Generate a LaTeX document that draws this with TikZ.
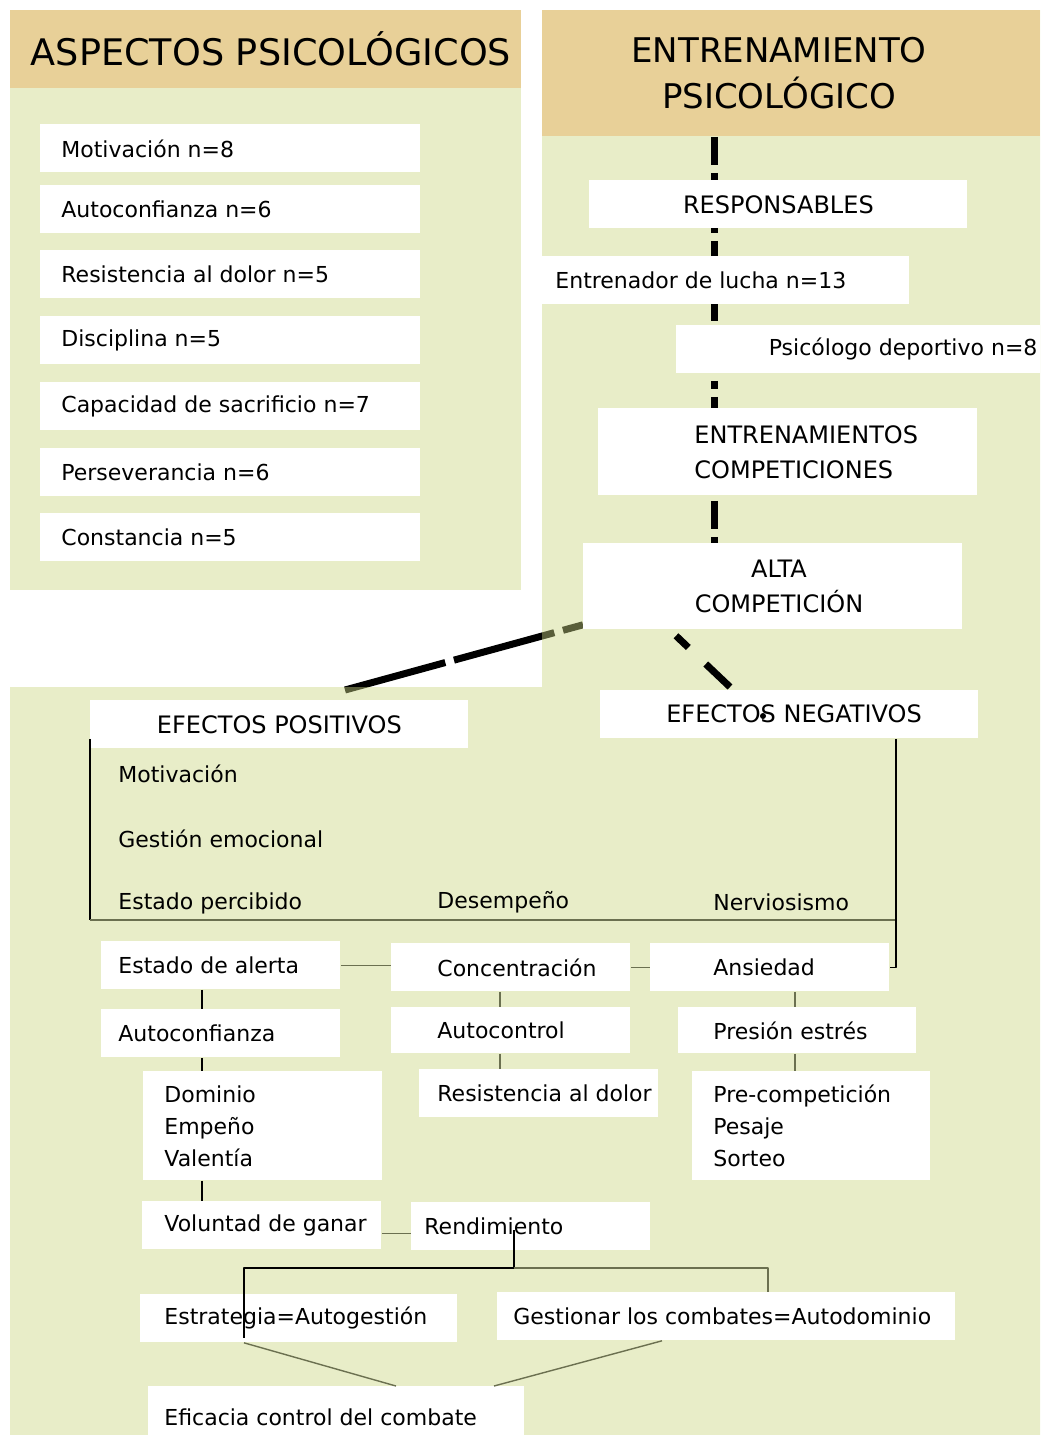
\documentclass[tikz,border=0pt]{standalone}
\usepackage{fontspec}
\setmainfont{DejaVu Sans}
\usetikzlibrary{positioning}
\pgfdeclarelayer{fondo}
\pgfdeclarelayer{trazos}
\pgfsetlayers{fondo,trazos,main}
\definecolor{verde}{RGB}{203,214,131}
\definecolor{arena}{RGB}{232,208,152}
\definecolor{gris}{RGB}{107,112,80}
\begin{document}
\begin{tikzpicture}[x=0.5pt, y=-0.5pt, font=\fontsize{11}{13}\selectfont, line join=round,
	caja/.style={fill=white, inner sep=0pt, anchor=north west, minimum height=24pt},
	texto/.style={inner sep=0pt, anchor=west, align=left},
	mayus/.style={font=\fontsize{12}{17.5}\selectfont},
	tres/.style={font=\fontsize{11}{16}\selectfont},
	fino/.style={line width=0.7pt},
	guion/.style={line width=3.5pt, line cap=butt}]
	\useasboundingbox (0,0) rectangle (1040,1435);
	% cabeceras
	\node[caja, fill=arena, minimum width=255.5pt, minimum height=39pt] (cab1) at (10,10) {};
	\node[inner sep=0pt, font=\fontsize{18.3}{22}\selectfont] (tcab1) at (271,49) {ASPECTOS PSICOLÓGICOS};
	\node[caja, fill=arena, minimum width=249pt, minimum height=63pt] (cab2) at (542,10) {};
	\node[inner sep=0pt, align=center, font=\fontsize{17}{23}\selectfont] (tcab2) at (779,73) {ENTRENAMIENTO\\PSICOLÓGICO};
	% aspectos
	\foreach \i/\y/\etiq in {1/124/Motivación n=8, 2/185/Autoconfianza n=6, 3/250/Resistencia al dolor n=5, 4/316/Disciplina n=5, 5/382/Capacidad de sacrificio n=7, 6/448/Perseverancia n=6, 7/513/Constancia n=5}
	{
		\node[caja, minimum width=190pt] (asp\i) at (40,\y) {};
		\node[texto, right=10.5pt of asp\i.west] (tasp\i) {\etiq};
	}
	% entrenamiento
	\node[caja, minimum width=189pt, mayus] (resp) at (589,180) {RESPONSABLES};
	\node[caja, minimum width=184pt] (entr) at (541,256) {};
	\node[texto, right=7pt of entr.west] (tentr) {Entrenador de lucha n=13};
	\node[caja, minimum width=182pt] (psic) at (676,325) {};
	\node[texto, left=1.5pt of psic.east] (tpsic) {Psicólogo deportivo n=8};
	\node[caja, minimum width=189.5pt, minimum height=43.5pt] (entcomp) at (598,408) {};
	\node[texto, mayus, right=48pt of entcomp.west] (tentcomp) {ENTRENAMIENTOS\\COMPETICIONES};
	\node[caja, minimum width=189.5pt, minimum height=43pt] (alta) at (583,543) {};
	\node[inner sep=0pt, mayus, align=center] (talta) at (779,586) {ALTA\\COMPETICIÓN};
	% efectos
	\node[caja, minimum width=189pt, mayus] (pos) at (90,700) {EFECTOS POSITIVOS};
	\node[caja, minimum width=189pt] (neg) at (600,690) {};
	\node[inner sep=0pt, mayus] (tneg) at (794,714) {EFECTOS NEGATIVOS};
	\node[texto] (motiv) at (118,774) {Motivación};
	\node[texto] (emoc) at (118,839) {Gestión emocional};
	\node[texto] (percib) at (118,903) {Estado percibido};
	\node[texto] (desemp) at (437,902) {Desempeño};
	\node[texto] (nervio) at (713,902) {Nerviosismo};
	% columna izquierda
	\node[caja, minimum width=119.5pt] (alerta) at (101,941) {};
	\node[texto, right=8.5pt of alerta.west] (talerta) {Estado de alerta};
	\node[caja, minimum width=119.5pt] (autoconf) at (101,1009) {};
	\node[texto, right=8.5pt of autoconf.west] (tautoconf) {Autoconfianza};
	\node[caja, minimum width=119.5pt, minimum height=54.5pt] (dominio) at (143,1071) {};
	\node[texto, tres, right=10.5pt of dominio.west] (tdominio) {Dominio\\Empeño\\Valentía};
	\node[caja, minimum width=119.5pt] (volun) at (142,1201) {};
	\node[texto, right=11pt of volun.west] (tvolun) {Voluntad de ganar};
	% columna central
	\node[caja, minimum width=119.5pt] (conc) at (391,943) {};
	\node[texto, right=23pt of conc.west] (tconc) {Concentración};
	\node[caja, minimum width=119.5pt, minimum height=23pt] (autocont) at (391,1007) {};
	\node[texto, right=23pt of autocont.west] (tautocont) {Autocontrol};
	\node[caja, minimum width=119.5pt] (resist) at (419,1069) {};
	\node[texto, right=9pt of resist.west] (tresist) {Resistencia al dolor};
	\node[caja, minimum width=119.5pt] (rend) at (411,1202) {};
	\node[texto, right=6.5pt of rend.west] (trend) {Rendimiento};
	% columna derecha
	\node[caja, minimum width=119.5pt] (ans) at (650,943) {};
	\node[texto, right=31.5pt of ans.west] (tans) {Ansiedad};
	\node[caja, minimum width=119pt, minimum height=23pt] (presion) at (678,1007) {};
	\node[texto, right=17.5pt of presion.west] (tpresion) {Presión estrés};
	\node[caja, minimum width=119pt, minimum height=54.5pt] (precomp) at (692,1071) {};
	\node[texto, tres, right=10.5pt of precomp.west] (tprecomp) {Pre-competición\\Pesaje\\Sorteo};
	% cierre
	\node[caja, minimum width=158.5pt] (estr) at (140,1294) {};
	\node[texto, right=12pt of estr.west] (testr) {Estrategia=Autogestión};
	\node[caja, minimum width=229pt] (gestc) at (497,1292) {};
	\node[texto, right=8pt of gestc.west] (tgestc) {Gestionar los combates=Autodominio};
	\node[caja, minimum width=188pt, minimum height=31pt] (efic) at (148,1386) {};
	\node[texto, right=8pt of efic.west] (tefic) {Eficacia control del combate};

	% fondo verde por encima de la diagonal
	\begin{pgfonlayer}{fondo}
		\coordinate (dpos) at (345,690);
		\draw[guion, dash pattern=on 52pt off 4.5pt] (dpos) -- ([yshift=2.5pt]alta.south west);
		\fill[verde, fill opacity=0.443] (10,10) rectangle (521,590);
		\fill[verde, fill opacity=0.443] (542,10) -- (1040,10) -- (1040,1435) -- (10,1435) -- (10,687) -- (542,687) -- cycle;
	\end{pgfonlayer}
	\begin{pgfonlayer}{trazos}
		\coordinate (eje) at (714,0);
		\draw[guion, dash pattern=on 14pt off 4pt on 4pt off 4pt] (cab2.south -| eje) -- (alta.north -| eje);
		\coordinate (dneg) at (730,687);
		\draw[guion, dash pattern=on 8.5pt off 12pt on 17pt off 10pt] ([xshift=46.5pt,yshift=-3pt]alta.south west) -- (dneg);
		\coordinate (marca) at (763,716);
	\end{pgfonlayer}
	\fill (marca) circle (1.5pt);

	% conectores
	\coordinate (colA) at (202,0);
	\coordinate (colB) at (500,0);
	\coordinate (colC) at (795,0);
	\draw[fino] (alerta.south -| colA) -- (autoconf.north -| colA);
	\draw[fino] (autoconf.south -| colA) -- (dominio.north -| colA);
	\draw[fino] (dominio.south -| colA) -- (volun.north -| colA);
	\draw[fino, gris] (conc.south -| colB) -- (autocont.north -| colB);
	\draw[fino, gris] (autocont.south -| colB) -- (resist.north -| colB);
	\draw[fino, gris] (ans.south -| colC) -- (presion.north -| colC);
	\draw[fino, gris] (presion.south -| colC) -- (precomp.north -| colC);
	\draw[fino, gris] (alerta.east) -- (alerta.east -| conc.west);
	\draw[fino, gris] (conc.east) -- (ans.west);
	\draw[fino, gris] ([yshift=-4pt]volun.east) -- ([yshift=-4pt]volun.east -| rend.west);
	\coordinate (esq) at (896,920);
	\draw[fino] ([yshift=5pt]pos.south west) -- (pos.south west |- esq);
	\draw[fino, gris] (pos.south west |- esq) -- (esq);
	\draw[fino] (neg.south -| esq) -- (ans.east -| esq) -- (ans.east);
	\coordinate (nudo) at (514,1268);
	\draw[fino] ([yshift=-2pt]rend.west -| nudo) -- (nudo) -| ([xshift=52pt,yshift=2.5pt]estr.south west);
	\draw[fino, gris] (nudo) -| ([xshift=135.5pt]gestc.north west);
	\draw[fino, gris] ([xshift=52pt]estr.south west) -- ([xshift=124pt]efic.north west);
	\draw[fino, gris] ([xshift=82.5pt]gestc.south west) -- ([xshift=173pt]efic.north west);
\end{tikzpicture}
\end{document}
